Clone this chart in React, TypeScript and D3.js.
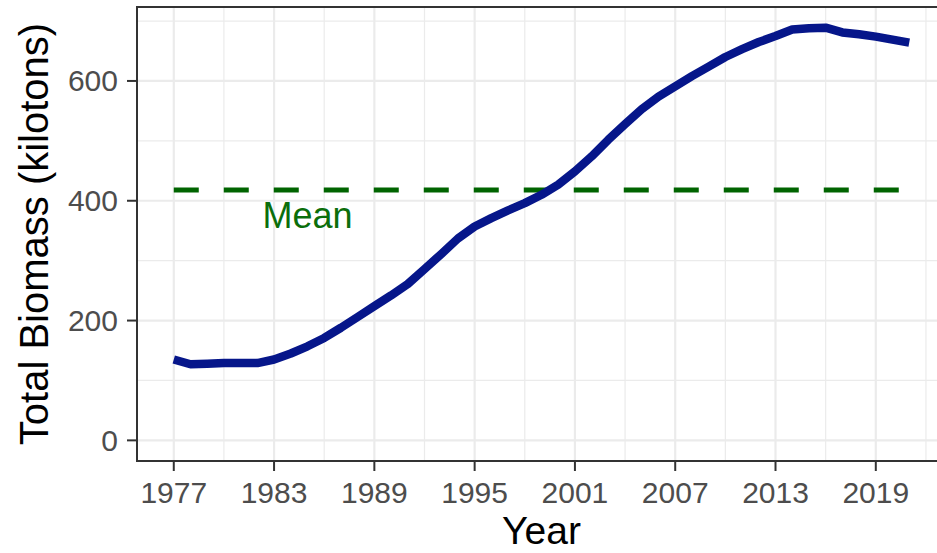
import React from "react";
import * as d3 from "d3";

const years: number[] = [
  1977, 1978, 1979, 1980, 1981, 1982, 1983, 1984, 1985, 1986,
  1987, 1988, 1989, 1990, 1991, 1992, 1993, 1994, 1995, 1996,
  1997, 1998, 1999, 2000, 2001, 2002, 2003, 2004, 2005, 2006,
  2007, 2008, 2009, 2010, 2011, 2012, 2013, 2014, 2015, 2016,
  2017, 2018, 2019, 2020, 2021,
];
const biomass: number[] = [
  135, 127, 128, 129, 129, 129, 135, 145, 157, 171,
  188, 206, 224, 242, 261, 286, 311, 337, 357, 371,
  384, 396, 410, 427, 449, 474, 502, 528, 553, 574,
  591, 608, 624, 640, 653, 665, 675, 686, 688, 689,
  681, 678, 674, 669, 664,
];
const meanValue = 418;
const meanLabel = "Mean";
const meanLabelYear = 1985;
const meanLabelValue = 376;
const xTicks: number[] = [1977, 1983, 1989, 1995, 2001, 2007, 2013, 2019];
const xMinor: number[] = [1980, 1986, 1992, 1998, 2004, 2010, 2016, 2022];
const yTicks: number[] = [0, 200, 400, 600];
const yMinor: number[] = [100, 300, 500, 700];
const xTitle = "Year";
const yTitle = "Total Biomass (kilotons)";

const W = 937;
const H = 553;
const panel = { left: 137, top: 7, right: 946, bottom: 461 };
const FONT = "'Liberation Sans', Arial, Helvetica, sans-serif";

export default function App() {
  const xExt = d3.extent(years) as [number, number];
  const xPad = (xExt[1] - xExt[0]) * 0.05;
  const x = d3
    .scaleLinear()
    .domain([xExt[0] - xPad, xExt[1] + xPad])
    .range([panel.left, panel.right]);
  const yMax = d3.max(biomass) as number;
  const yPad = yMax * 0.05;
  const y = d3
    .scaleLinear()
    .domain([0 - yPad, yMax + yPad])
    .range([panel.bottom, panel.top]);

  const data = years.map((yr, i) => ({ yr, v: biomass[i] }));
  const line = d3
    .line<{ yr: number; v: number }>()
    .x((d) => x(d.yr))
    .y((d) => y(d.v));

  const grid = "#EBEBEB";
  const axisCol = "#333333";
  const tickText = "#4D4D4D";

  return (
    <svg
      width={W}
      height={H}
      style={{ position: "absolute", left: 0, top: 0, background: "#fff" }}
      fontFamily={FONT}
    >
      <rect x={0} y={0} width={W} height={H} fill="#fff" />
      {/* minor grid */}
      {yMinor.map((v) => (
        <line key={"ym" + v} x1={panel.left} x2={panel.right} y1={y(v)} y2={y(v)} stroke={grid} strokeWidth={1.2} />
      ))}
      {xMinor.map((v) => (
        <line key={"xm" + v} x1={x(v)} x2={x(v)} y1={panel.top} y2={panel.bottom} stroke={grid} strokeWidth={1.2} />
      ))}
      {/* major grid */}
      {yTicks.map((v) => (
        <line key={"yM" + v} x1={panel.left} x2={panel.right} y1={y(v)} y2={y(v)} stroke={grid} strokeWidth={2.2} />
      ))}
      {xTicks.map((v) => (
        <line key={"xM" + v} x1={x(v)} x2={x(v)} y1={panel.top} y2={panel.bottom} stroke={grid} strokeWidth={2.2} />
      ))}

      {/* mean line */}
      <line
        x1={x(xExt[0])}
        x2={x(xExt[1])}
        y1={y(meanValue)}
        y2={y(meanValue)}
        stroke="#006400"
        strokeWidth={5}
        strokeDasharray="25 25"
      />
      <text
        x={x(meanLabelYear)}
        y={y(meanLabelValue)}
        textAnchor="middle"
        dominantBaseline="central"
        fontSize={36}
        fill="#0B6E0B"
      >
        {meanLabel}
      </text>

      {/* data line */}
      <path
        d={line(data) || ""}
        fill="none"
        stroke="#06168A"
        strokeWidth={8.5}
        strokeLinejoin="round"
        strokeLinecap="butt"
      />

      {/* panel border */}
      <rect
        x={panel.left}
        y={panel.top}
        width={panel.right - panel.left}
        height={panel.bottom - panel.top}
        fill="none"
        stroke={axisCol}
        strokeWidth={2}
      />

      {/* y axis ticks */}
      {yTicks.map((v) => (
        <g key={"yt" + v}>
          <line x1={panel.left - 10} x2={panel.left} y1={y(v)} y2={y(v)} stroke={axisCol} strokeWidth={2} />
          <text
            x={panel.left - 19}
            y={y(v)}
            textAnchor="end"
            dominantBaseline="central"
            fontSize={30}
            fill={tickText}
          >
            {v}
          </text>
        </g>
      ))}
      {/* x axis ticks */}
      {xTicks.map((v) => (
        <g key={"xt" + v}>
          <line x1={x(v)} x2={x(v)} y1={panel.bottom} y2={panel.bottom + 10} stroke={axisCol} strokeWidth={2} />
          <text x={x(v)} y={503} textAnchor="middle" fontSize={30} fill={tickText}>
            {v}
          </text>
        </g>
      ))}

      {/* titles */}
      <text x={(panel.left + panel.right) / 2} y={544} textAnchor="middle" fontSize={39} fill="#000">
        {xTitle}
      </text>
      <text
        transform={`translate(48, ${(panel.top + panel.bottom) / 2}) rotate(-90)`}
        textAnchor="middle"
        fontSize={40}
        fill="#000"
      >
        {yTitle}
      </text>
    </svg>
  );
}
